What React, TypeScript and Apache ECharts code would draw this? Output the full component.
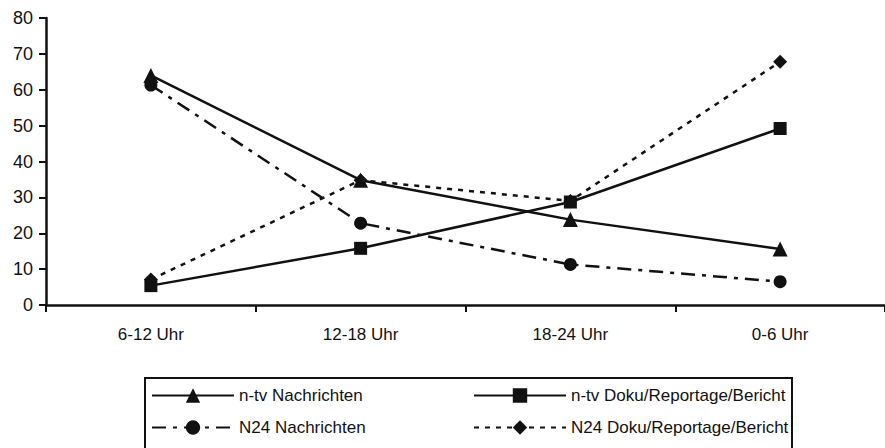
import React, { useEffect, useRef } from "react";
import * as echarts from "echarts";

const categories = ["6-12 Uhr", "12-18 Uhr", "18-24 Uhr", "0-6 Uhr"];
const seriesNames = [
  "n-tv Nachrichten",
  "n-tv Doku/Reportage/Bericht",
  "N24 Nachrichten",
  "N24 Doku/Reportage/Bericht",
];
const ntvNachrichten = [64, 34.8, 23.8, 15.6];
const ntvDoku = [5.4, 15.8, 28.7, 49.2];
const n24Nachrichten = [61.3, 22.8, 11.3, 6.5];
const n24Doku = [7.1, 34.8, 29, 67.8];
const yTicks = { min: 0, max: 80, interval: 10 };

const FONT = "'Liberation Sans', Arial, sans-serif";
const INK = "#111";

export default function App() {
  const ref = useRef<HTMLDivElement>(null);
  useEffect(() => {
    if (!ref.current) return;
    const chart = echarts.init(ref.current, undefined, { renderer: "svg" });
    const mkSeries = (name: string, data: number[], symbol: string, size: number, type: any) => ({
      name,
      type: "line",
      data,
      symbol,
      symbolSize: size,
      showSymbol: true,
      lineStyle: { color: INK, width: 2.5, type },
      itemStyle: { color: INK, borderWidth: 0 },
      z: 3,
    });
    const legendBase = {
      padding: 0,
      itemWidth: 82,
      itemHeight: 18,
      selectedMode: false,
      textStyle: { color: INK, fontSize: 17, fontFamily: FONT },
      itemGap: 0,
    };
    chart.setOption({
      animation: false,
      backgroundColor: "#fff",
      grid: { left: 46, top: 18, height: 287, width: 848 },
      xAxis: {
        type: "category",
        data: categories,
        boundaryGap: true,
        axisLine: { lineStyle: { color: INK, width: 2.5 } },
        axisTick: { show: true, length: 7, lineStyle: { color: INK, width: 2 }, alignWithLabel: false },
        axisLabel: { color: INK, fontSize: 17, fontFamily: FONT, margin: 21 },
        splitLine: { show: false },
      },
      yAxis: {
        type: "value",
        min: yTicks.min,
        max: yTicks.max,
        interval: yTicks.interval,
        axisLine: { show: true, lineStyle: { color: INK, width: 2.5 } },
        axisTick: { show: true, length: 7, lineStyle: { color: INK, width: 2 } },
        axisLabel: { color: INK, fontSize: 18, fontFamily: FONT, margin: 13 },
        splitLine: { show: false },
      },
      legend: [
        { ...legendBase, data: [seriesNames[0]], left: 151, top: 387 },
        { ...legendBase, data: [seriesNames[1]], left: 473, top: 387, itemWidth: 92 },
        { ...legendBase, data: [seriesNames[2]], left: 151, top: 419 },
        { ...legendBase, data: [seriesNames[3]], left: 473, top: 419, itemWidth: 92 },
      ],
      graphic: [
        {
          type: "rect",
          shape: { x: 145, y: 378, width: 647, height: 100 },
          style: { fill: "none", stroke: INK, lineWidth: 2 },
          silent: true,
        },
      ],
      series: [
        mkSeries(seriesNames[0], ntvNachrichten, "triangle", 15, "solid"),
        mkSeries(seriesNames[1], ntvDoku, "rect", 13, "solid"),
        mkSeries(seriesNames[2], n24Nachrichten, "circle", 13, [14, 7, 4, 7]),
        mkSeries(seriesNames[3], n24Doku, "diamond", 14, [5, 6]),
      ],
    });
    return () => chart.dispose();
  }, []);
  return (
    <div
      ref={ref}
      style={{ position: "absolute", left: 0, top: 0, width: 885, height: 448, background: "#fff" }}
    />
  );
}
